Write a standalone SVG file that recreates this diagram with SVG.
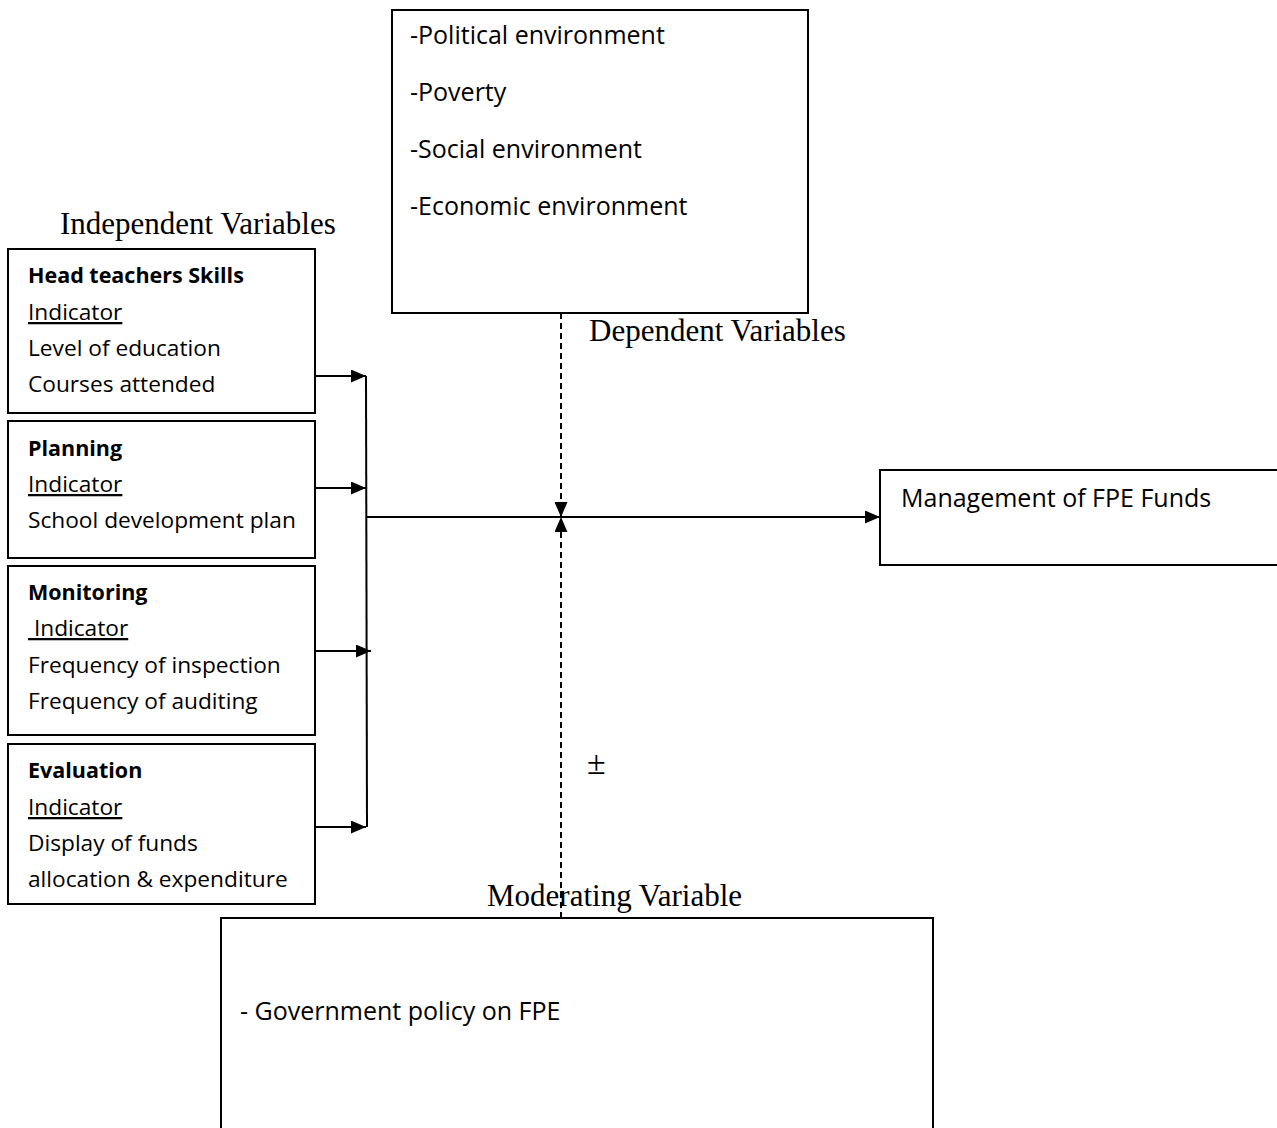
<svg xmlns="http://www.w3.org/2000/svg" width="1277" height="1128" viewBox="0 0 1277 1128">
<style>
.box{fill:#fff;stroke:#000;stroke-width:2}
.t{font-family:"Open Sans","Liberation Sans",sans-serif;font-size:22.7px;fill:#000}
.big{font-size:25px}
.b{font-weight:bold;font-size:21.5px}
.u{text-decoration:underline}
.s{font-family:"Liberation Serif",serif;font-size:31px;fill:#000}
.ln{stroke:#000;stroke-width:2;fill:none}
.dl{stroke:#000;stroke-width:2;fill:none;stroke-dasharray:6,4}
</style>
<defs>
<marker id="ah2" viewBox="0 0 10 10" refX="10" refY="5" markerWidth="15" markerHeight="13" markerUnits="userSpaceOnUse" orient="auto" preserveAspectRatio="none">
<path d="M0,0 L10,5 L0,10 z" fill="#000"/>
</marker>
</defs>
<g id="labels">
<text class="s" x="60" y="234">Independent Variables</text>
<text class="s" x="589" y="341">Dependent Variables</text>
<text class="s" x="487" y="906">Moderating Variable</text>
<text class="s" x="587" y="774" style="font-size:34px">±</text>
</g>
<g id="connectors">
<line class="ln" x1="315" y1="376" x2="366" y2="376" marker-end="url(#ah2)"/>
<line class="ln" x1="315" y1="488" x2="366" y2="488" marker-end="url(#ah2)"/>
<line class="ln" x1="315" y1="651" x2="371" y2="651" marker-end="url(#ah2)"/>
<line class="ln" x1="314" y1="827" x2="366" y2="827" marker-end="url(#ah2)"/>
<line class="ln" x1="366" y1="376" x2="367" y2="827"/>
<line class="ln" x1="366" y1="517" x2="880" y2="517" marker-end="url(#ah2)"/>
<line class="dl" x1="561" y1="313" x2="561" y2="517" marker-end="url(#ah2)"/>
<line class="dl" x1="561" y1="918" x2="561" y2="517" marker-end="url(#ah2)"/>
</g>
<g id="external">
<rect class="box" x="392" y="10" width="416" height="303"/>
<text class="t big" x="410" y="44">-Political environment</text>
<text class="t big" x="410" y="101">-Poverty</text>
<text class="t big" x="410" y="158">-Social environment</text>
<text class="t big" x="410" y="215">-Economic environment</text>
</g>
<g id="head-teachers">
<rect class="box" x="8" y="249" width="307" height="164"/>
<text class="t b" x="28" y="283">Head teachers Skills</text>
<text class="t u" x="28" y="320">Indicator</text>
<text class="t" x="28" y="356">Level of education</text>
<text class="t" x="28" y="392">Courses attended</text>
</g>
<g id="planning">
<rect class="box" x="8" y="421" width="307" height="137"/>
<text class="t b" x="28" y="456">Planning</text>
<text class="t u" x="28" y="492">Indicator</text>
<text class="t" x="28" y="528">School development plan</text>
</g>
<g id="monitoring">
<rect class="box" x="8" y="566" width="307" height="169"/>
<text class="t b" x="28" y="600">Monitoring</text>
<text class="t u" x="28" y="636" xml:space="preserve"> Indicator</text>
<text class="t" x="28" y="673">Frequency of inspection</text>
<text class="t" x="28" y="709">Frequency of auditing</text>
</g>
<g id="evaluation">
<rect class="box" x="8" y="744" width="307" height="160"/>
<text class="t b" x="28" y="778">Evaluation</text>
<text class="t u" x="28" y="815">Indicator</text>
<text class="t" x="28" y="851">Display of funds</text>
<text class="t" x="28" y="887">allocation &amp; expenditure</text>
</g>
<g id="management">
<rect class="box" x="880" y="470" width="400" height="95"/>
<text class="t big" x="901" y="507">Management of FPE Funds</text>
</g>
<g id="moderating">
<rect class="box" x="221" y="918" width="712" height="220"/>
<text class="t big" x="240" y="1020">- Government policy on FPE</text>
</g>
</svg>
